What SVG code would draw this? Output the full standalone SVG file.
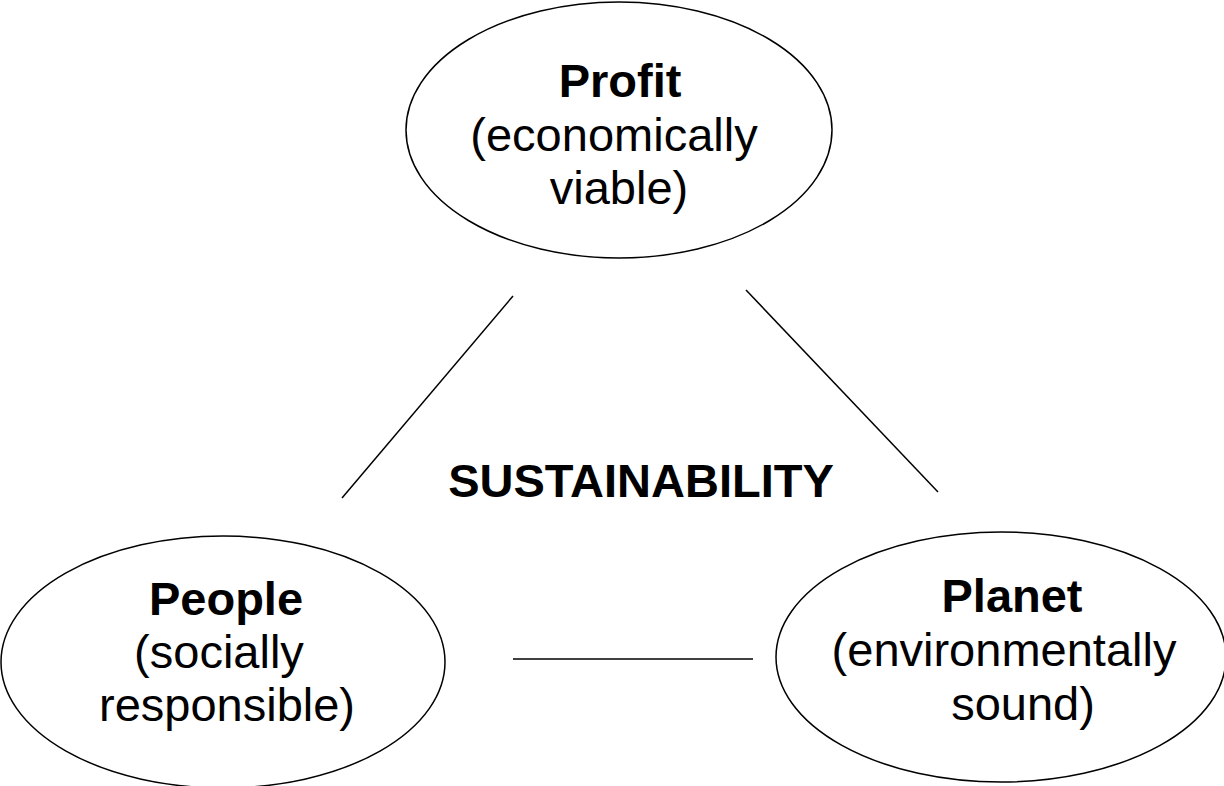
<svg xmlns="http://www.w3.org/2000/svg" width="1224" height="786" viewBox="0 0 1224 786">
  <style>
    .node { fill: #ffffff; stroke: #000000; stroke-width: 1.5; }
    .link { stroke: #000000; stroke-width: 1.5; fill: none; }
    .title { font-family: "Liberation Sans", Arial, sans-serif; font-size: 47px; font-weight: bold; fill: #000000; text-anchor: middle; }
    .sub { font-family: "Liberation Sans", Arial, sans-serif; font-size: 47px; fill: #000000; text-anchor: middle; }
  </style>
  <rect width="1224" height="786" fill="#ffffff"/>

  <g id="connectors">
    <line class="link" x1="513" y1="296" x2="342" y2="498"/>
    <line class="link" x1="746" y1="290" x2="938" y2="492"/>
    <line class="link" x1="513" y1="659" x2="753" y2="659"/>
  </g>

  <g id="profit">
    <ellipse class="node" cx="619" cy="130" rx="213" ry="128"/>
    <text class="title" x="620" y="97">Profit</text>
    <text class="sub" x="614" y="151">(economically</text>
    <text class="sub" x="619" y="204">viable)</text>
  </g>

  <g id="people">
    <ellipse class="node" cx="223" cy="662" rx="222" ry="126"/>
    <text class="title" x="226" y="615">People</text>
    <text class="sub" x="219" y="668">(socially</text>
    <text class="sub" x="227" y="721">responsible)</text>
  </g>

  <g id="planet">
    <ellipse class="node" cx="1001" cy="657" rx="225" ry="125"/>
    <text class="title" x="1012" y="612">Planet</text>
    <text class="sub" x="1004" y="666">(environmentally</text>
    <text class="sub" x="1023" y="720">sound)</text>
  </g>

  <g id="sustainability">
    <text class="title" x="641" y="497">SUSTAINABILITY</text>
  </g>
</svg>
